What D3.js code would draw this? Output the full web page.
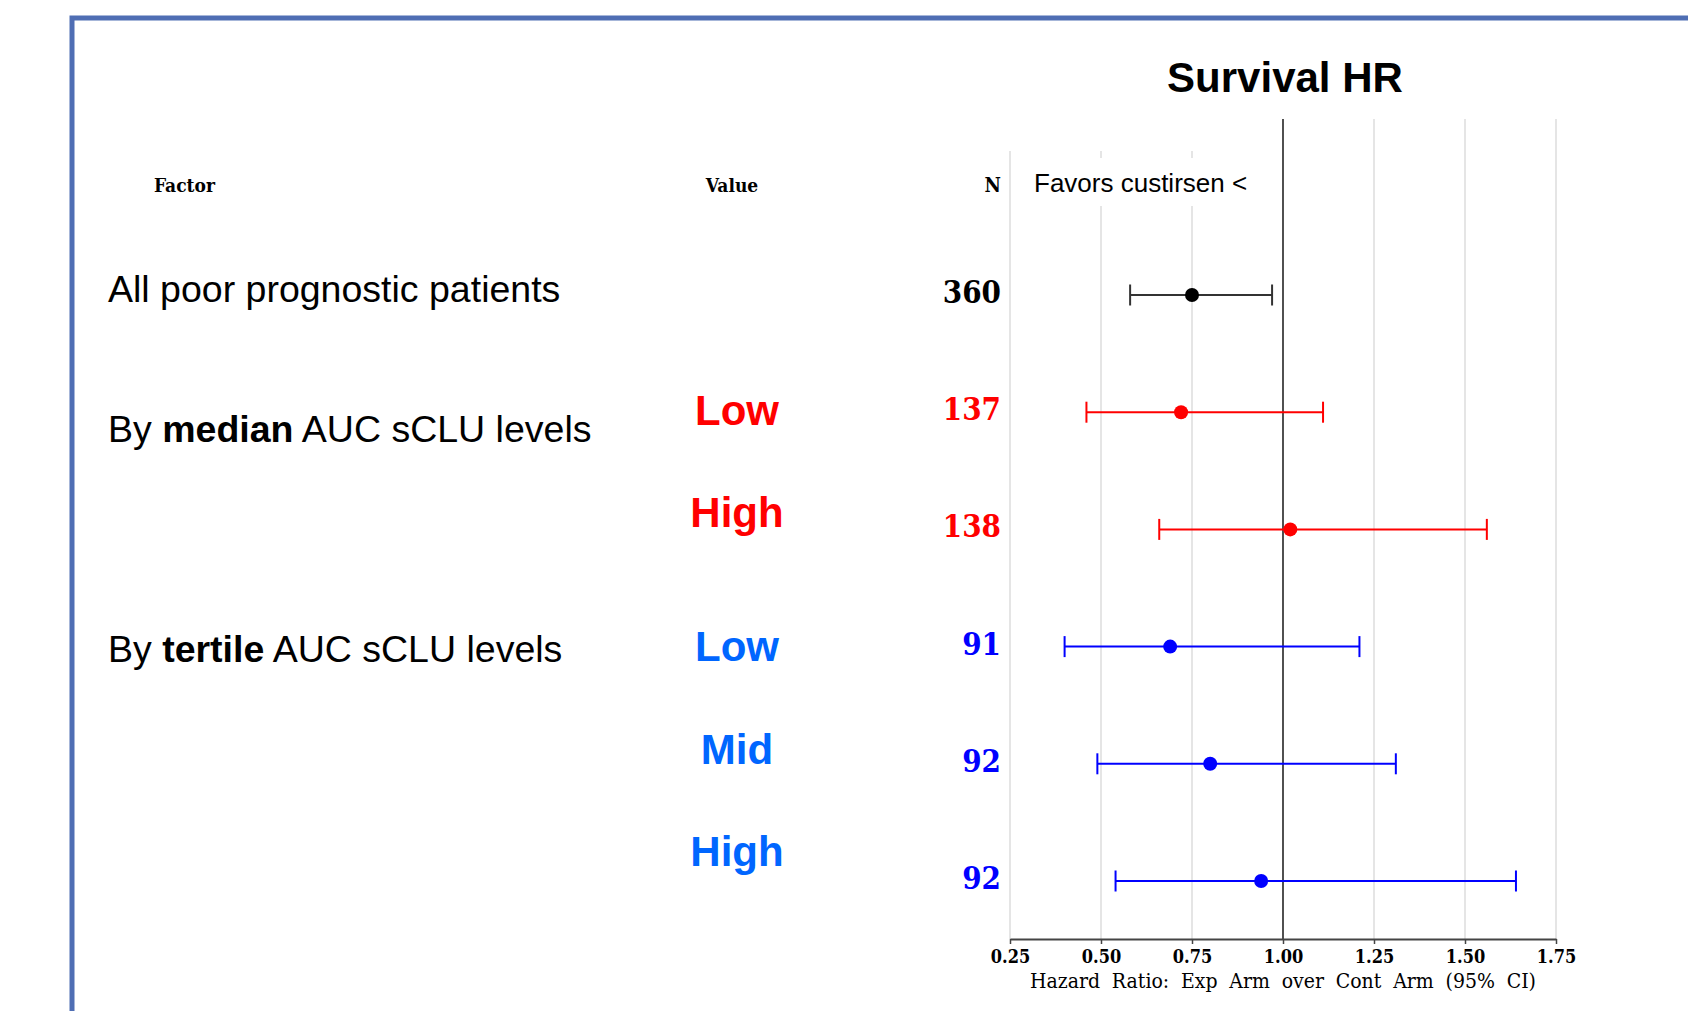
<!DOCTYPE html>
<html>
<head>
<meta charset="utf-8">
<script src="https://cdn.jsdelivr.net/npm/d3@7"></script>
<style>
  html, body { margin: 0; padding: 0; background: #fff; }
  svg { display: block; }
  .sans { font-family: "Liberation Sans", Arial, Helvetica, sans-serif; }
  .serif { font-family: "DejaVu Serif Condensed", "DejaVu Serif", serif; font-stretch: condensed; }
</style>
</head>
<body>
<svg id="chart" width="1688" height="1011"></svg>
<script>
// ---- data ----
const groupLabels = [
  [["All poor prognostic patients", false]],
  [["By ", false], ["median", true], [" AUC sCLU levels", false]],
  [["By ", false], ["tertile", true], [" AUC sCLU levels", false]]
];
const rowGroup = [0, 1, 1, 2, 2, 2];
const subgroupValues = ["", "Low", "High", "Low", "Mid", "High"];
const nPatients = [360, 137, 138, 91, 92, 92];
const hazardRatio = [0.75, 0.72, 1.02, 0.69, 0.80, 0.94];
const ciLower = [0.58, 0.46, 0.66, 0.40, 0.49, 0.54];
const ciUpper = [0.97, 1.11, 1.56, 1.21, 1.31, 1.64];
const xTicks = [0.25, 0.50, 0.75, 1.00, 1.25, 1.50, 1.75];
const referenceHR = 1.00;

// ---- styling per group ----
const markerColor = ["#000000", "#ff0000", "#0000ff"];
const barColor = ["#333333", "#ff0000", "#0000ff"];
const valueColor = ["#000000", "#ff0000", "#0066ff"];

// ---- layout ----
const W = 1688, H = 1011;
const plotLeft = 1010, plotRight = 1556;
const plotTop = 119, axisY = 939;
const groupLabelY = [302, 442, 662];
const valueLabelY = [0, 425, 527, 661, 764, 866];

const svg = d3.select("#chart");

const x = d3.scaleLinear().domain([0.25, 1.75]).range([plotLeft, plotRight]);
const y = d3.scalePoint().domain(d3.range(nPatients.length)).range([295, 881]);

// frame
svg.append("path")
  .attr("d", `M72,${H} V18 H${W}`)
  .attr("fill", "none")
  .attr("stroke", "#4f6eb4")
  .attr("stroke-width", 5);

// title
svg.append("text").attr("class", "sans")
  .attr("x", x(referenceHR) + 2).attr("y", 92)
  .attr("text-anchor", "middle")
  .attr("font-size", 42).attr("font-weight", "bold")
  .attr("fill", "#000")
  .text("Survival HR");

// gridlines
svg.append("g").selectAll("line").data(xTicks).join("line")
  .attr("x1", d => x(d)).attr("x2", d => x(d))
  .attr("y1", plotTop).attr("y2", axisY)
  .attr("stroke", "#dcdcdc").attr("stroke-width", 1.5);

// white band behind header row on the left part of the plot
svg.append("rect")
  .attr("x", plotLeft - 6).attr("y", plotTop - 1)
  .attr("width", x(referenceHR) - plotLeft - 10).attr("height", 151 - plotTop + 1)
  .attr("fill", "#fff");
// white box behind "Favors custirsen <"
svg.append("rect")
  .attr("x", plotLeft + 8).attr("y", 158)
  .attr("width", x(referenceHR) - plotLeft - 24).attr("height", 48)
  .attr("fill", "#fff");

// reference line at HR = 1
svg.append("line")
  .attr("x1", x(referenceHR)).attr("x2", x(referenceHR))
  .attr("y1", plotTop).attr("y2", axisY)
  .attr("stroke", "#000").attr("stroke-width", 1.3);

svg.append("text").attr("class", "sans")
  .attr("x", 1034).attr("y", 192)
  .attr("font-size", 26).attr("fill", "#000")
  .text("Favors custirsen <");

// column headers
svg.append("text").attr("class", "serif")
  .attr("x", 154).attr("y", 192)
  .attr("font-size", 19).attr("font-weight", "bold")
  .text("Factor");
svg.append("text").attr("class", "serif")
  .attr("x", 732).attr("y", 192).attr("text-anchor", "middle")
  .attr("font-size", 19).attr("font-weight", "bold")
  .text("Value");
svg.append("text").attr("class", "serif")
  .attr("x", 1001).attr("y", 192).attr("text-anchor", "end")
  .attr("font-size", 20).attr("font-weight", "bold")
  .text("N");

// group labels
svg.append("g").selectAll("text").data(groupLabels).join("text")
  .attr("class", "sans")
  .attr("x", 108).attr("y", (d, i) => groupLabelY[i])
  .attr("font-size", 37.5).attr("fill", "#000")
  .each(function(parts) {
    d3.select(this).selectAll("tspan").data(parts).join("tspan")
      .attr("font-weight", p => p[1] ? "bold" : "normal")
      .text(p => p[0]);
  });

// subgroup value labels
svg.append("g").selectAll("text").data(subgroupValues).join("text")
  .attr("class", "sans")
  .attr("x", 737).attr("y", (d, i) => valueLabelY[i])
  .attr("text-anchor", "middle")
  .attr("font-size", 42).attr("font-weight", "bold")
  .attr("fill", (d, i) => valueColor[rowGroup[i]])
  .text(d => d);

// N column
svg.append("g").selectAll("text").data(nPatients).join("text")
  .attr("class", "serif")
  .attr("x", 1001).attr("y", (d, i) => y(i) + 8)
  .attr("text-anchor", "end")
  .attr("font-size", 31).attr("font-weight", "bold")
  .attr("fill", (d, i) => markerColor[rowGroup[i]])
  .text(d => d);

// confidence intervals and point estimates
const rows = svg.append("g").selectAll("g").data(d3.range(nPatients.length)).join("g")
  .attr("transform", i => `translate(0,${y(i)})`);

rows.append("line")
  .attr("x1", i => x(ciLower[i])).attr("x2", i => x(ciUpper[i]))
  .attr("stroke", i => barColor[rowGroup[i]]).attr("stroke-width", 2);
rows.append("line")
  .attr("x1", i => x(ciLower[i])).attr("x2", i => x(ciLower[i]))
  .attr("y1", -10.5).attr("y2", 10.5)
  .attr("stroke", i => barColor[rowGroup[i]]).attr("stroke-width", 2);
rows.append("line")
  .attr("x1", i => x(ciUpper[i])).attr("x2", i => x(ciUpper[i]))
  .attr("y1", -10.5).attr("y2", 10.5)
  .attr("stroke", i => barColor[rowGroup[i]]).attr("stroke-width", 2);
rows.append("circle")
  .attr("cx", i => x(hazardRatio[i])).attr("r", 7)
  .attr("fill", i => markerColor[rowGroup[i]]);

// x axis
const xAxis = d3.axisBottom(x).tickValues(xTicks).tickFormat(d3.format(".2f"))
  .tickSize(5).tickSizeOuter(0).tickPadding(6);
const gAxis = svg.append("g").attr("transform", `translate(0,${axisY})`).call(xAxis);
gAxis.select(".domain").attr("stroke", "#444").attr("stroke-width", 2);
gAxis.selectAll(".tick line").attr("stroke", "#444").attr("stroke-width", 1.5);
gAxis.selectAll(".tick text")
  .attr("class", "serif")
  .attr("font-family", null)
  .attr("font-size", 18).attr("font-weight", "bold").attr("fill", "#000");

// axis title: widen the gaps between words so it spans the plot width
const axisTitle = svg.append("text").attr("class", "serif")
  .attr("x", (plotLeft + plotRight) / 2).attr("y", 988)
  .attr("text-anchor", "middle")
  .attr("font-size", 21).attr("fill", "#000")
  .text("Hazard Ratio: Exp Arm over Cont Arm (95% CI)");
const titleText = axisTitle.text();
const gaps = titleText.split(" ").length - 1;
const natural = axisTitle.node().getComputedTextLength();
axisTitle.attr("word-spacing", Math.max(0, (506 - natural) / gaps));
</script>
</body>
</html>
